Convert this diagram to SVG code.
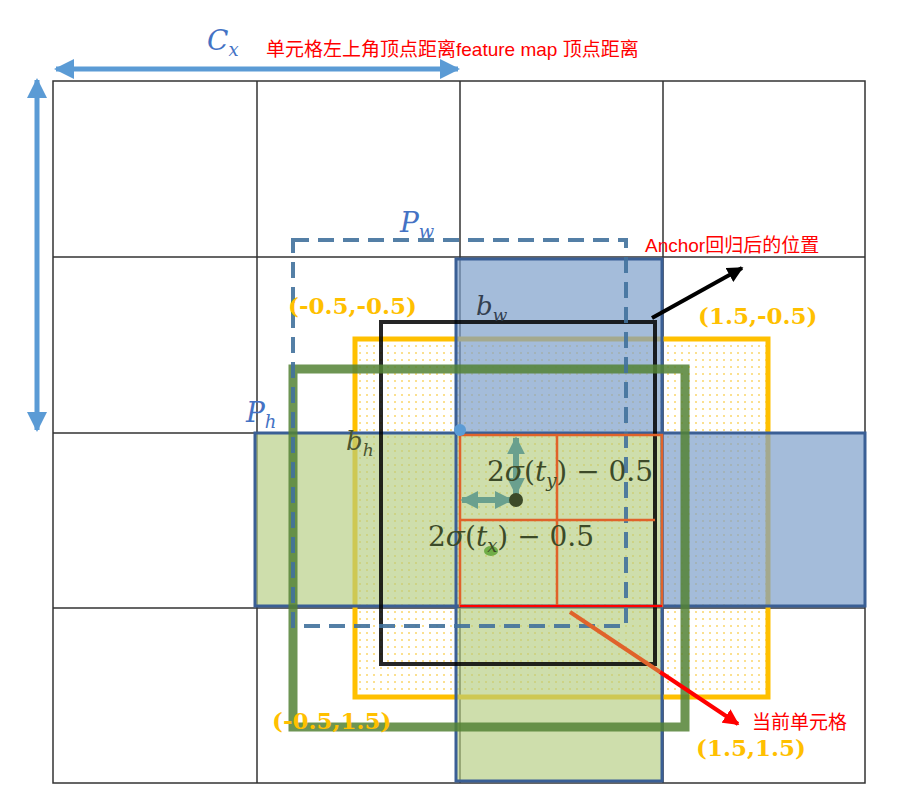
<svg xmlns="http://www.w3.org/2000/svg" width="917" height="805" viewBox="0 0 917 805">
<style>
.g{stroke:#333;stroke-width:1.5;fill:none}
.cam{font-family:"DejaVu Serif","Liberation Serif",serif;font-style:italic;fill:#4472c4}
.cn{font-family:"Liberation Sans","Noto Sans CJK SC",sans-serif;fill:#ff0000;font-size:19px}
.co{font-family:"DejaVu Serif","Liberation Serif",serif;font-weight:bold;fill:#ffc000;font-size:23px}
.mt{font-family:"DejaVu Serif","Liberation Serif",serif;fill:#3c4a28;font-size:28px}
</style>
<defs>
<pattern id="dots" width="7" height="7" patternUnits="userSpaceOnUse"><circle cx="3" cy="3" r="0.8" fill="#f5b800"/></pattern>
<marker id="ab" viewBox="0 0 10 10" refX="9" refY="5" markerWidth="4" markerHeight="4" orient="auto-start-reverse"><path d="M0,0L10,5L0,10z" fill="#5b9bd5"/></marker>
<marker id="at" viewBox="0 0 10 10" refX="9" refY="5" markerWidth="3" markerHeight="3" orient="auto-start-reverse"><path d="M0,0L10,5L0,10z" fill="#6aa08e"/></marker>
<marker id="ak" viewBox="0 0 10 10" refX="9" refY="5" markerWidth="4" markerHeight="4" orient="auto"><path d="M0,0L10,5L0,10z" fill="#000"/></marker>
<marker id="ar" viewBox="0 0 10 10" refX="9" refY="5" markerWidth="4" markerHeight="4" orient="auto"><path d="M0,0L10,5L0,10z" fill="#ff0000"/></marker>
</defs>
<rect width="917" height="805" fill="#fff"/>
<g id="grid">
<rect class="g" x="53" y="81" width="812" height="702"/>
<path class="g" d="M257,81V783M460,81V783M663,81V783M53,257H865M53,433H865M53,608H865"/>
</g>
<g id="yellow-box"><rect x="355" y="339" width="413" height="358" fill="url(#dots)" stroke="#ffc000" stroke-width="5"/></g>
<g id="pw-box">
<rect x="456" y="259" width="206" height="174" fill="#7ea0ca" fill-opacity="0.7"/>
<rect x="662" y="433" width="203" height="173" fill="#7ea0ca" fill-opacity="0.7"/>
<rect x="255" y="433" width="201" height="173" fill="#b3cc80" fill-opacity="0.65"/>
<rect x="456" y="433" width="206" height="173" fill="#b3cc80" fill-opacity="0.65"/>
<rect x="456" y="608" width="206" height="173" fill="#b3cc80" fill-opacity="0.65"/>
<rect x="456" y="259" width="206" height="522" fill="none" stroke="#3a5f95" stroke-width="3"/>
<rect x="255" y="433" width="610" height="173" fill="none" stroke="#3a5f95" stroke-width="3"/>
</g>
<g id="black-box"><rect x="381" y="322" width="274" height="342" fill="none" stroke="#000" stroke-width="4" stroke-opacity="0.85"/></g>
<g id="green-box"><rect x="293" y="369" width="392" height="358" fill="none" stroke="#548235" stroke-width="9" stroke-opacity="0.85"/></g>
<g id="dashed-box"><rect x="293" y="240" width="333" height="386" fill="none" stroke="#41719c" stroke-width="4" stroke-dasharray="16,9" stroke-opacity="0.9"/></g>
<g id="cell"><path d="M460,435H662V606H460ZM557,435V606M460,520H655" fill="none" stroke="#e0622a" stroke-width="2.5"/><path d="M460,606H662" stroke="#ff0000" stroke-width="2"/></g>
<g id="connectors">
<line x1="37" y1="80" x2="37" y2="430" stroke="#5b9bd5" stroke-width="5" marker-start="url(#ab)" marker-end="url(#ab)"/>
<line x1="56" y1="69" x2="458" y2="69" stroke="#5b9bd5" stroke-width="5" marker-start="url(#ab)" marker-end="url(#ab)"/>
<line x1="516" y1="438" x2="516" y2="494" stroke="#6aa08e" stroke-width="6" marker-start="url(#at)" marker-end="url(#at)"/>
<line x1="462" y1="500" x2="511" y2="500" stroke="#6aa08e" stroke-width="6" marker-start="url(#at)" marker-end="url(#at)"/>
<line x1="652" y1="318" x2="742" y2="268" stroke="#000" stroke-width="4" marker-end="url(#ak)"/>
<line x1="570" y1="612" x2="660" y2="672" stroke="#e0622a" stroke-width="4"/>
<line x1="660" y1="672" x2="738" y2="724" stroke="#ff0000" stroke-width="4" marker-end="url(#ar)"/>
</g>
<g id="dots-g">
<circle cx="516" cy="500" r="7" fill="#3c4a28"/>
<ellipse cx="491" cy="551" rx="7" ry="5" fill="#70ad47"/>
<circle cx="460" cy="430" r="6" fill="#5b9bd5"/>
</g>
<g id="labels">
<text x="207" y="50" class="cam" font-size="28">C<tspan font-size="18" dy="6">x</tspan></text>
<text x="266" y="56" class="cn">单元格左上角顶点距离feature map 顶点距离</text>
<text x="400" y="232" class="cam" font-size="28">P<tspan font-size="18" dy="6">w</tspan></text>
<text x="645" y="252" class="cn">Anchor回归后的位置</text>
<text x="288" y="314" class="co">(-0.5,-0.5)</text>
<text x="476" y="315" class="cam" font-size="26" fill="#333f50" style="fill:#333f50">b<tspan font-size="17" dy="6">w</tspan></text>
<text x="698" y="324" class="co">(1.5,-0.5)</text>
<text x="246" y="422" class="cam" font-size="28">P<tspan font-size="18" dy="6">h</tspan></text>
<text x="346" y="450" class="cam" font-size="26" style="fill:#4a5530">b<tspan font-size="17" dy="6">h</tspan></text>
<text x="487" y="481" class="mt">2<tspan font-style="italic">σ</tspan>(<tspan font-style="italic">t</tspan><tspan font-size="18" dy="6" font-style="italic">y</tspan><tspan dy="-6">) − 0.5</tspan></text>
<text x="428" y="546" class="mt">2<tspan font-style="italic">σ</tspan>(<tspan font-style="italic">t</tspan><tspan font-size="18" dy="6" font-style="italic">x</tspan><tspan dy="-6">) − 0.5</tspan></text>
<text x="272" y="729" class="co">(-0.5,1.5)</text>
<text x="752" y="729" class="cn">当前单元格</text>
<text x="696" y="756" class="co">(1.5,1.5)</text>
</g>
</svg>
